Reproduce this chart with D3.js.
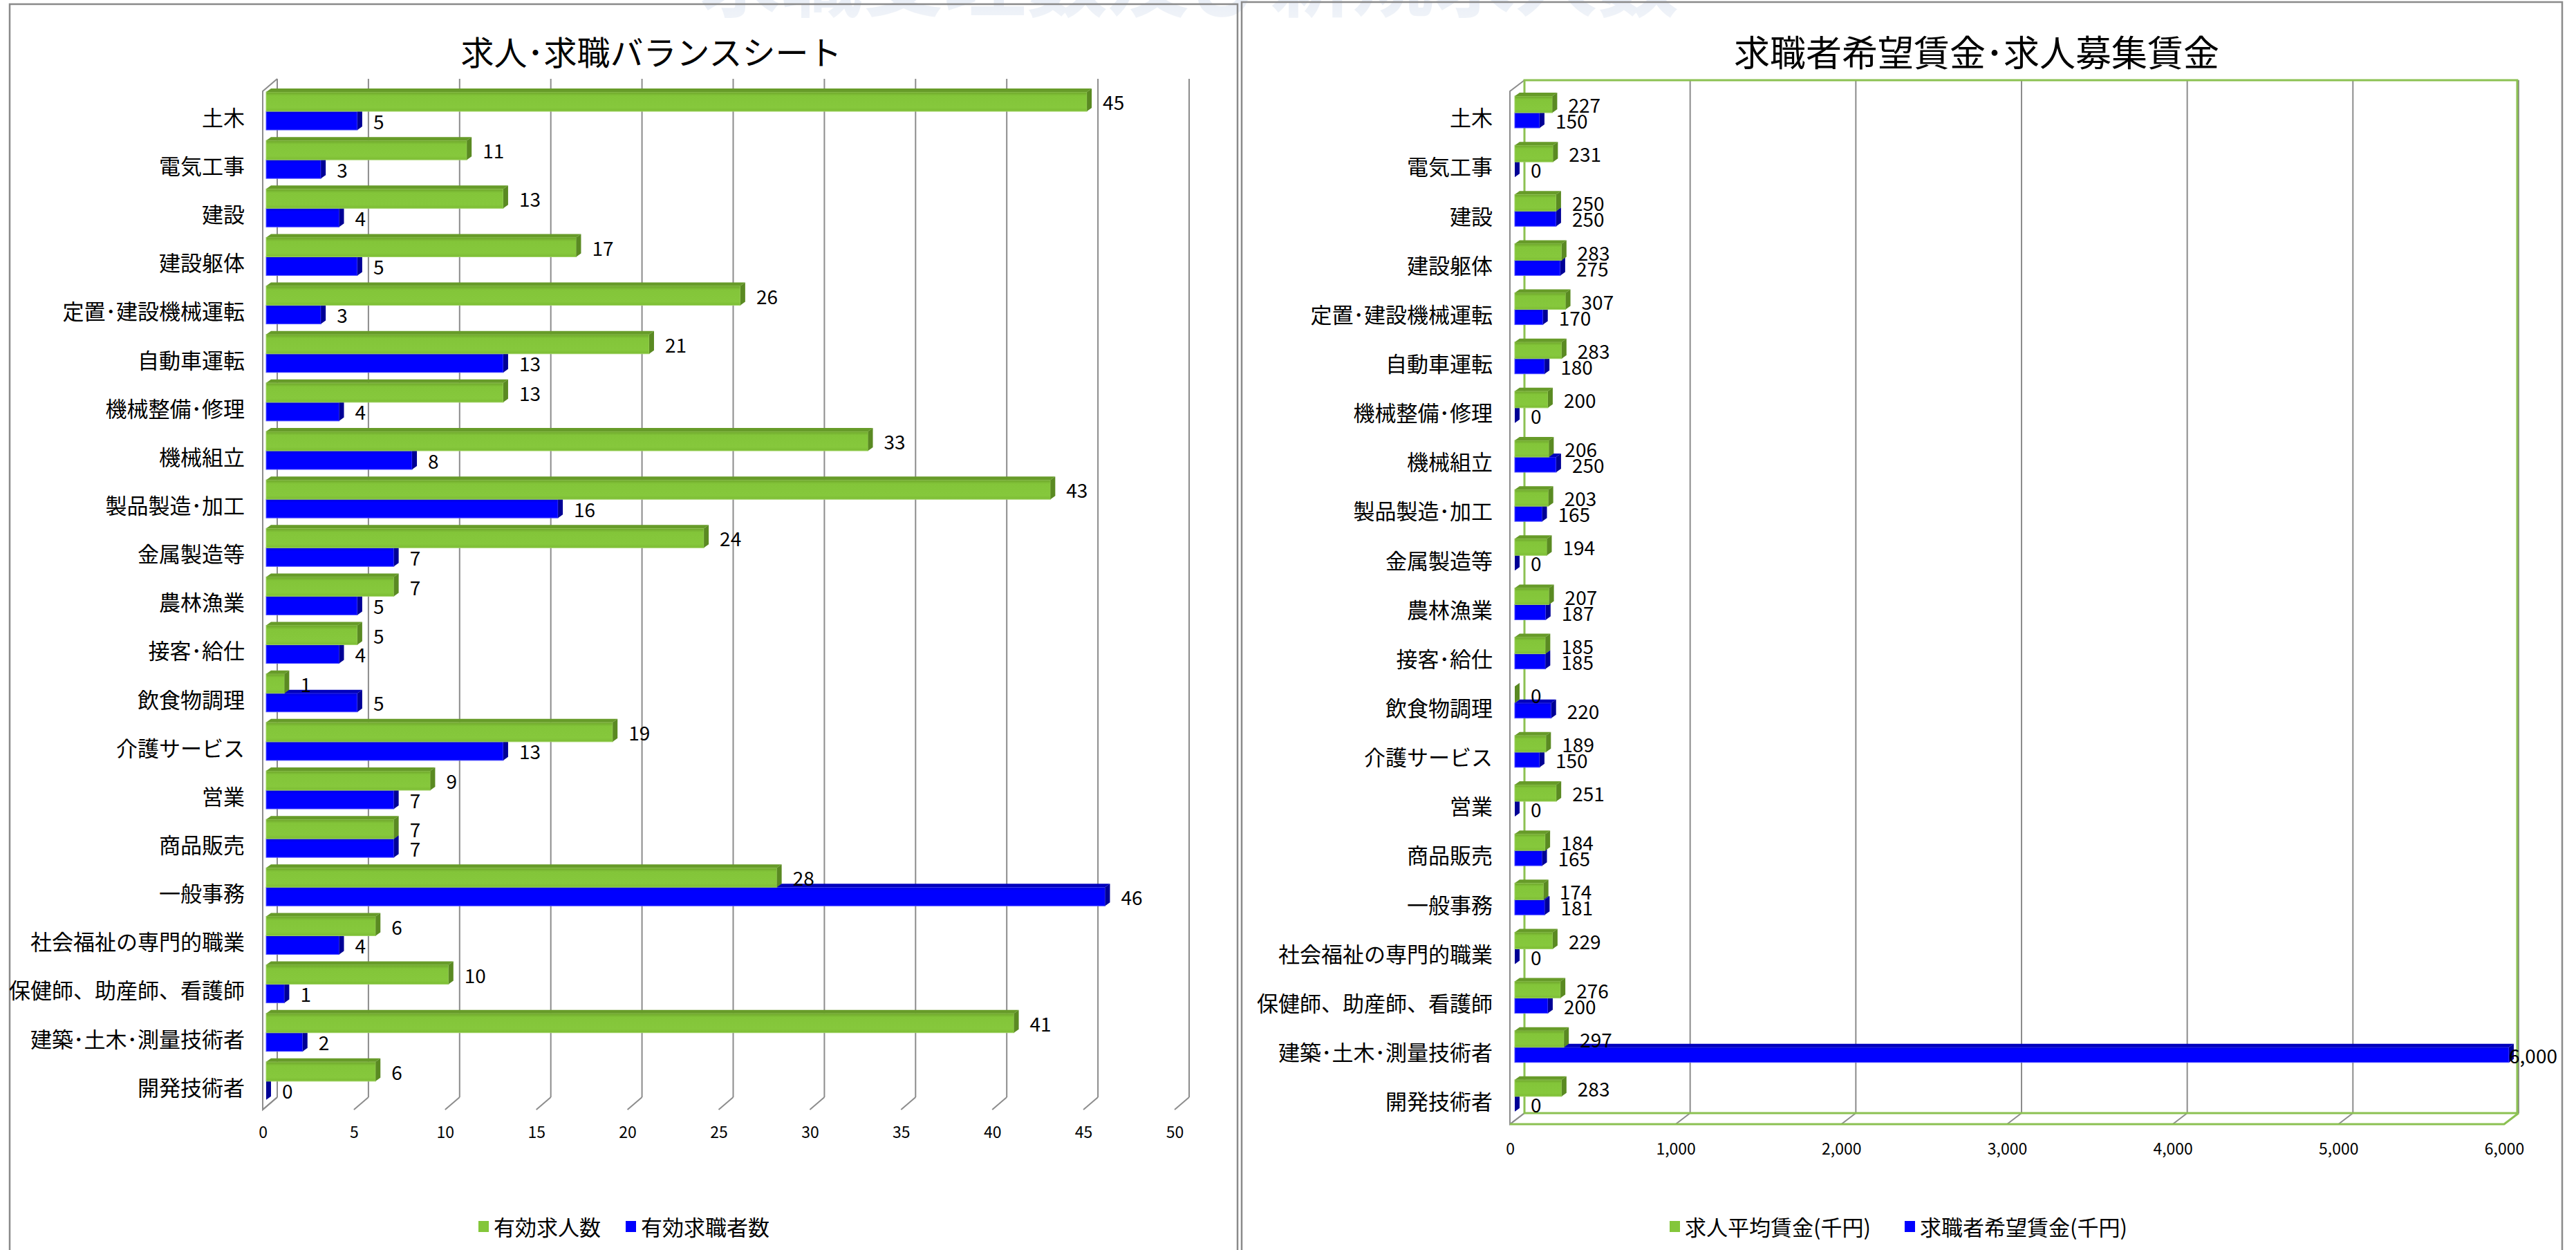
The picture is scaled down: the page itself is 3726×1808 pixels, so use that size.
<!DOCTYPE html>
<html>
<head>
<meta charset="utf-8">
<script src="https://cdn.jsdelivr.net/npm/d3@7"></script>
<style>
body { margin: 0; background: #fff; }
text { font-family: "Noto Sans CJK JP", "Noto Sans", sans-serif; fill: #000; }
</style>
</head>
<body>
<script>
const width = 3726;
const height = 1808;

// data
const categories = [
    "土木", "電気工事", "建設", "建設躯体", "定置･建設機械運転", "自動車運転",
    "機械整備･修理", "機械組立", "製品製造･加工", "金属製造等", "農林漁業",
    "接客･給仕", "飲食物調理", "介護サービス", "営業", "商品販売", "一般事務",
    "社会福祉の専門的職業", "保健師、助産師、看護師", "建築･土木･測量技術者", "開発技術者",
];
const jobOffers = [45, 11, 13, 17, 26, 21, 13, 33, 43, 24, 7, 5, 1, 19, 9, 7, 28, 6, 10, 41, 6];
const jobSeekers = [5, 3, 4, 5, 3, 13, 4, 8, 16, 7, 5, 4, 5, 13, 7, 7, 46, 4, 1, 2, 0];
const offerWage = [227, 231, 250, 283, 307, 283, 200, 206, 203, 194, 207, 185, 0, 189, 251, 184, 174, 229, 276, 297, 283];
const seekerWage = [150, 0, 250, 275, 170, 180, 0, 250, 165, 0, 187, 185, 220, 150, 0, 165, 181, 0, 200, 6000, 0];
const countTicks = [0, 5, 10, 15, 20, 25, 30, 35, 40, 45, 50];
const wageTicks = [0, 1000, 2000, 3000, 4000, 5000, 6000];
const leftTitle = "求人･求職バランスシート";
const rightTitle = "求職者希望賃金･求人募集賃金";
const leftSeries = ["有効求人数", "有効求職者数"];
const rightSeries = ["求人平均賃金(千円)", "求職者希望賃金(千円)"];
const bannerText = "求職受理数及び新規求人数";

const svg = d3.select("body").append("svg")
    .attr("width", width)
    .attr("height", height);

const defs = svg.append("defs");
const gradient = (id, stops, x2 = 0, y2 = 1) => {
    defs.append("linearGradient")
        .attr("id", id)
        .attr("x1", 0).attr("y1", 0).attr("x2", x2).attr("y2", y2)
        .selectAll("stop")
        .data(stops)
        .join("stop")
        .attr("offset", (d) => d[0])
        .attr("stop-color", (d) => d[1]);
};
gradient("greenFront", [[0, "#6da42b"], [0.2, "#83c539"], [0.8, "#86c83c"], [1, "#7cbc34"]]);
gradient("blueFront", [[0, "#0000d8"], [0.18, "#0000ff"], [1, "#0000ff"]]);
gradient("banner", [[0, "#a9bcdb"], [1, "#f0f4fa"]]);

const green = { front: "url(#greenFront)", top: "#679b29", side: "#5a8a22", stroke: "#9fd262" };
const blue = { front: "url(#blueFront)", top: "#0000bc", side: "#000096", stroke: "#5555ff" };

// panel backgrounds
const panels = [
    { x: 14, y: 6, w: 1776, h: 1900 },
    { x: 1796, y: 3, w: 1910, h: 1900 },
];
svg.append("g").selectAll("rect").data(panels).join("rect")
    .attr("x", (d) => d.x).attr("y", (d) => d.y)
    .attr("width", (d) => d.w).attr("height", (d) => d.h)
    .attr("fill", "#fff");

// faint page banner behind the charts, mostly cut off at the top
svg.append("text")
    .attr("x", 1720)
    .attr("y", 15)
    .attr("text-anchor", "middle")
    .style("font-size", "118px")
    .style("font-weight", "bold")
    .style("fill", "url(#banner)")
    .style("opacity", 0.6)
    .text(bannerText);

svg.append("g").selectAll("rect").data(panels).join("rect")
    .attr("x", (d) => d.x).attr("y", (d) => d.y)
    .attr("width", (d) => d.w).attr("height", (d) => d.h)
    .attr("fill", "none")
    .attr("stroke", "#8a8a8a")
    .attr("stroke-width", 2.5);

// one 3D looking bar: front face, top face and right side face
function bar3d(g, xa, xb, y, h, [ddx, ddy], c) {
    g.append("rect")
        .attr("x", xa).attr("y", y)
        .attr("width", Math.max(0, xb - xa)).attr("height", h)
        .attr("fill", c.front)
        .attr("stroke", c.stroke).attr("stroke-width", 1);
    g.append("path")
        .attr("d", `M${xa},${y}L${xa + ddx},${y + ddy}L${xb + ddx},${y + ddy}L${xb},${y}Z`)
        .attr("fill", c.top);
    g.append("path")
        .attr("d", `M${xb},${y}L${xb + ddx},${y + ddy}L${xb + ddx},${y + h + ddy}L${xb},${y + h}Z`)
        .attr("fill", c.side);
}

function drawChart(cfg) {
    const g = svg.append("g");
    const x = d3.scaleLinear().domain(cfg.domain).range(cfg.range);
    const y = d3.scaleBand().domain(categories).range([cfg.top, cfg.bottom]);
    const [dx, dy] = cfg.depth;
    const x0 = x(0);

    g.append("text")
        .attr("x", cfg.titleX)
        .attr("y", 76)
        .attr("dy", "0.38em")
        .attr("text-anchor", "middle")
        .style("font-size", cfg.titleSize + "px")
        .text(cfg.title);

    // back wall grid lines
    g.append("g").selectAll("line").data(cfg.ticks).join("line")
        .attr("x1", (d) => x(d) + dx).attr("x2", (d) => x(d) + dx)
        .attr("y1", cfg.top + dy).attr("y2", cfg.bottom + dy)
        .attr("stroke", "#8c8c8c").attr("stroke-width", 2);

    // floor: diagonals from the back wall to the front edge
    g.append("g").selectAll("line").data(cfg.ticks).join("line")
        .attr("x1", (d) => x(d) + dx).attr("y1", cfg.bottom + dy)
        .attr("x2", (d) => x(d)).attr("y2", cfg.bottom)
        .attr("stroke", "#8c8c8c").attr("stroke-width", 2);

    // side wall edges
    g.append("path")
        .attr("d", `M${x0 + dx},${cfg.top + dy}L${x0},${cfg.top}L${x0},${cfg.bottom}L${x0 + dx},${cfg.bottom + dy}`)
        .attr("fill", "none").attr("stroke", "#8c8c8c").attr("stroke-width", 2);

    if (cfg.frame) {
        const xe = x(cfg.domain[1]);
        g.append("path")
            .attr("d", `M${x0 + dx},${cfg.bottom + dy}V${cfg.top + dy}H${xe + dx - 2}V${cfg.bottom + dy}Z`)
            .attr("fill", "none").attr("stroke", cfg.frame).attr("stroke-width", 3);
        g.append("path")
            .attr("d", `M${x0},${cfg.bottom}H${xe}L${xe + dx},${cfg.bottom + dy}`)
            .attr("fill", "none").attr("stroke", cfg.frame).attr("stroke-width", 3);
    }

    // bars, one group per category; second series first so the first sits on top
    const bars = g.append("g");
    categories.forEach((c, i) => {
        const b = y(c);
        const gs = bars.append("g");
        bar3d(gs, x0 + cfg.bx, x(cfg.values[1][i]) + cfg.bx, b + cfg.bars[1][0], cfg.bars[1][1], cfg.barDepth, blue);
        bar3d(gs, x0 + cfg.bx, x(cfg.values[0][i]) + cfg.bx, b + cfg.bars[0][0], cfg.bars[0][1], cfg.barDepth, green);
    });

    // value labels
    const labels = g.append("g").style("font-size", "28px");
    [0, 1].forEach((s) => {
        categories.forEach((c, i) => {
            const v = cfg.values[s][i];
            const t = labels.append("text")
                .attr("y", y(c) + cfg.bars[s][0] + cfg.bars[s][1] / 2 + 2)
                .attr("dy", "0.36em")
                .text(cfg.format(v));
            const len = t.node().getComputedTextLength();
            t.attr("x", Math.min(x(v) + cfg.bx + 23, cfg.labelMax - len));
        });
    });

    // category axis
    g.append("g")
        .attr("transform", `translate(${x0},3)`)
        .call(d3.axisLeft(y).tickSize(0).tickPadding(cfg.catPad))
        .call((a) => a.select(".domain").remove())
        .call((a) => a.selectAll("text")
            .attr("dy", "0.38em")
            .style("font-family", '"Noto Sans CJK JP"')
            .style("font-size", "31px")
            .attr("fill", "#000"));

    // value axis labels under the floor
    g.append("g")
        .attr("transform", `translate(0,${cfg.tickY})`)
        .call(d3.axisBottom(x).tickValues(cfg.ticks).tickFormat(cfg.format).tickSize(0).tickPadding(0))
        .call((a) => a.select(".domain").remove())
        .call((a) => a.selectAll("text")
            .attr("y", 0)
            .attr("dy", "0.36em")
            .style("font-family", '"Noto Sans CJK JP"')
            .style("font-size", "23px")
            .attr("fill", "#000"));

    // legend
    const legend = g.append("g").style("font-size", "31px");
    let lx = cfg.legendX;
    cfg.series.forEach((name, s) => {
        legend.append("rect")
            .attr("x", lx).attr("y", 1766)
            .attr("width", 15).attr("height", 16)
            .attr("fill", s === 0 ? "#84c63a" : "#0000ff");
        const t = legend.append("text")
            .attr("x", lx + 22).attr("y", 1775)
            .attr("dy", "0.38em")
            .text(name);
        lx += 22 + t.node().getComputedTextLength() + cfg.legendGap;
    });
}

drawChart({
    title: leftTitle,
    titleX: 942,
    titleSize: 48,
    domain: [0, 50],
    range: [380, 1699],
    ticks: countTicks,
    format: d3.format("d"),
    top: 132,
    bottom: 1605,
    depth: [21, -18],
    bx: 5,
    bars: [[1, 28], [29, 27]],
    barDepth: [7, -5],
    values: [jobOffers, jobSeekers],
    labelMax: 1775,
    catPad: 26,
    tickY: 1638,
    series: leftSeries,
    legendX: 692,
    legendGap: 36,
    frame: null,
});

drawChart({
    title: rightTitle,
    titleX: 2859,
    titleSize: 52,
    domain: [0, 6000],
    range: [2184, 3622],
    ticks: wageTicks,
    format: d3.format(","),
    top: 132,
    bottom: 1626,
    depth: [21, -16],
    bx: 7,
    bars: [[7, 24], [31, 22]],
    barDepth: [7, -5],
    values: [offerWage, seekerWage],
    labelMax: 3699,
    catPad: 25,
    tickY: 1662,
    series: rightSeries,
    legendX: 2415,
    legendGap: 49,
    frame: "#8cc152",
});
</script>
</body>
</html>
